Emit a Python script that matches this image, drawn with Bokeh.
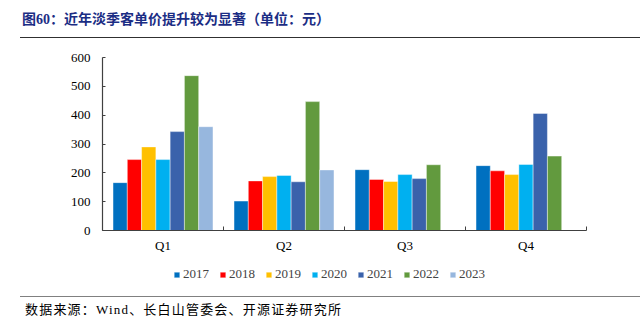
from bokeh.plotting import figure
from bokeh.models import (ColumnDataSource, FixedTicker, Legend, LegendItem,
                          Range1d, Div)
from bokeh.layouts import column
from bokeh.embed import file_html
from bokeh.resources import INLINE

quarters = ["Q1", "Q2", "Q3", "Q4"]
years = ["2017", "2018", "2019", "2020", "2021", "2022", "2023"]
v2017 = [166, 102, 211, 225]
v2018 = [246, 172, 177, 207]
v2019 = [290, 187, 170, 194]
v2020 = [246, 191, 194, 229]
v2021 = [343, 169, 180, 406]
v2022 = [537, 447, 228, 258]
v2023 = [360, 210, None, None]
colors = ["#0070C0", "#FF0000", "#FFC000", "#00B0F0", "#3A62AB", "#629A3E", "#97B7DE"]
y_ticks = [0, 100, 200, 300, 400, 500, 600]

title_text = "图60：近年淡季客单价提升较为显著（单位：元）"
source_text = "数据来源：Wind、长白山管委会、开源证券研究所"

series = [v2017, v2018, v2019, v2020, v2021, v2022, v2023]
font = "Liberation Serif"
W = 643

# ---- title strip (canvas y 0..40)
title_div = Div(
    text=('<div style="margin-left:20px;width:620px;height:37.5px;box-sizing:border-box;'
          'border-bottom:1.5px solid #303030;padding-top:10px;padding-left:2px;'
          'font-family:\'Liberation Serif\',\'Noto Sans CJK SC\';font-weight:bold;'
          'font-size:14px;line-height:19px;color:#1B2D84;white-space:nowrap;">'
          + title_text + '</div>'),
    width=W, height=40, margin=0)

# ---- main chart (canvas y 40..262)
MH = 222
FL, FR, FT, FB = 102, 586, 17, 190
p = figure(width=W, height=MH, output_backend="svg", toolbar_location=None,
           x_range=Range1d(0, len(quarters)), y_range=Range1d(0, 600),
           min_border_left=FL, min_border_right=W - FR, min_border_top=FT,
           min_border_bottom=MH - FB)
p.outline_line_color = None
p.xgrid.grid_line_color = None
p.ygrid.grid_line_color = None

bw = 0.118
for i, (yr, vals, c) in enumerate(zip(years, series, colors)):
    xs, tops = [], []
    for q, v in enumerate(vals):
        if v is None:
            continue
        xs.append(q + 0.5 + (i - 3) * bw)
        tops.append(v)
    src = ColumnDataSource(dict(x=xs, top=tops))
    p.vbar(x="x", top="top", width=bw, source=src, fill_color=c,
           line_color="white", line_width=0.6, line_alpha=0.7)

ax = p.xaxis[0]
ax.ticker = FixedTicker(ticks=[q + 0.5 for q in range(len(quarters))],
                        minor_ticks=list(range(len(quarters) + 1)))
ax.major_label_overrides = {q + 0.5: name for q, name in enumerate(quarters)}
ax.major_tick_line_color = None
ax.minor_tick_in = 4
ax.minor_tick_out = 0
ax.minor_tick_line_color = "#404040"
ax.axis_line_color = "#404040"
ax.axis_line_width = 1.2
ax.major_label_text_font = font
ax.major_label_text_font_size = "13px"
ax.major_label_text_color = "black"
ax.major_label_standoff = 1

ay = p.yaxis[0]
ay.ticker = FixedTicker(ticks=y_ticks)
ay.major_tick_in = 3
ay.major_tick_out = 0
ay.minor_tick_line_color = None
ay.major_tick_line_color = "#404040"
ay.axis_line_color = "#404040"
ay.axis_line_width = 1.2
ay.major_label_text_font = font
ay.major_label_text_font_size = "13px"
ay.major_label_text_color = "black"
ay.major_label_standoff = 12

# ---- legend strip (canvas y 262..294)
LH = 32
pf = figure(width=W, height=LH, output_backend="svg", toolbar_location=None,
            x_range=Range1d(0, 1), y_range=Range1d(0, 1),
            x_axis_type=None, y_axis_type=None,
            min_border_left=FL, min_border_right=W - FR, min_border_top=0,
            min_border_bottom=0)
pf.grid.visible = False
pf.outline_line_color = None
items = []
for yr, vals, c in zip(years, series, colors):
    # hidden proxy renderer so the legend can draw its swatch
    r = pf.vbar(x=[0], top=[vals[0]], width=1, fill_color=c, line_color="white",
                line_width=0.6, line_alpha=0.7, visible=False)
    items.append(LegendItem(label=yr, renderers=[r]))
legend = Legend(items=items, orientation="horizontal", location=(71, 12),
                padding=0, margin=0, spacing=10, label_standoff=3,
                glyph_width=7, glyph_height=7, label_height=14,
                label_text_font=font, label_text_font_size="13px",
                border_line_color=None, background_fill_alpha=0)
pf.add_layout(legend, "center")

# ---- source strip (canvas y 294..332)
source_div = Div(
    text=('<div style="margin-left:20px;margin-top:1.5px;width:620px;box-sizing:border-box;'
          'border-top:1.5px solid #808080;padding-top:4px;padding-left:5px;'
          'font-family:\'Liberation Serif\',\'Noto Sans CJK SC\';'
          'font-size:13px;letter-spacing:1.2px;line-height:18px;color:black;white-space:nowrap;">'
          + source_text + '</div>'),
    width=W, height=38, margin=0)

layout = column(title_div, p, pf, source_div, spacing=0)
open("out.html", "w").write(file_html(layout, INLINE))
